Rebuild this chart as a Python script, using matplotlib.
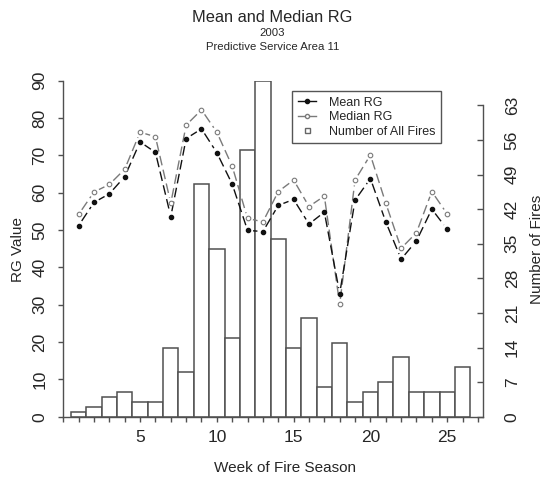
import numpy as np
import matplotlib
matplotlib.use("Agg")
import matplotlib.pyplot as plt
from matplotlib.lines import Line2D

plt.rcParams['font.family'] = ['Liberation Sans', 'DejaVu Sans']

# ---------------- data ----------------
weeks_line = list(range(1, 26))
mean_rg = [51.2, 57.4, 59.7, 64.3, 73.6, 70.8, 53.6, 74.5, 77.1, 70.7,
           62.3, 49.9, 49.6, 56.6, 58.2, 51.6, 54.8, 33.0, 58.0, 63.8,
           52.2, 42.2, 47.1, 55.6, 50.2]
median_rg = [54.2, 60.2, 62.2, 66.3, 76.2, 75.0, 57.2, 78.1, 82.2, 76.2,
             67.1, 53.1, 52.2, 60.3, 63.4, 56.3, 59.1, 30.1, 63.4, 70.1,
             57.2, 45.1, 49.3, 60.3, 54.3]
weeks_bar = list(range(1, 27))
fire_counts = [1, 2, 4, 5, 3, 3, 14, 9, 47, 34, 16, 54, 68, 36, 14, 20,
               6, 15, 3, 5, 7, 12, 5, 5, 5, 10]
x_ticks = list(range(0, 28))
x_tick_labels = ['5', '10', '15', '20', '25']
rg_ticks = [0, 10, 20, 30, 40, 50, 60, 70, 80, 90]
count_ticks = [0, 7, 14, 21, 28, 35, 42, 49, 56, 63]

title = "Mean and Median RG"
subtitle1 = "2003"
subtitle2 = "Predictive Service Area 11"

# ---------------- figure ----------------
W, H = 547, 483
fig = plt.figure(figsize=(W / 100, H / 100), dpi=100)
left_px, right_px, top_px, bot_px = 63.3, 482.5, 80.7, 416.7
ax = fig.add_axes([left_px / W, 1 - bot_px / H,
                   (right_px - left_px) / W, (bot_px - top_px) / H])
ax2 = ax.twinx()
ax.set_zorder(2)
ax2.set_zorder(1)
ax.patch.set_visible(False)

axis_col = '#505050'
text_col = '#262626'

ax.set_xlim(0, 27.3)
ax.set_ylim(0, 90)
ax2.set_ylim(0, 68)

# bars (counts)
ax2.bar(weeks_bar, fire_counts, width=1.0, facecolor='white',
        edgecolor='#505050', linewidth=1.1)


# lines with gaps around points (R type="b")
def gapped_line(axis, xs, ys, color, dashes, gap_px=5.5):
    tr = axis.transData
    pts = tr.transform(np.column_stack([xs, ys]))
    inv = tr.inverted()
    for p0, p1 in zip(pts[:-1], pts[1:]):
        d = p1 - p0
        L = np.hypot(*d)
        if L <= 2 * gap_px:
            continue
        u = d / L
        q = inv.transform(np.array([p0 + u * gap_px, p1 - u * gap_px]))
        axis.plot(q[:, 0], q[:, 1], color=color, lw=1.0,
                  dashes=dashes, solid_capstyle='butt', dash_capstyle='butt')


mean_col = '#111111'
med_col = '#7a7a7a'
gapped_line(ax, weeks_line, median_rg, med_col, (7.0, 3.2))
gapped_line(ax, weeks_line, mean_rg, mean_col, (7.0, 3.2))
ax.plot(weeks_line, median_rg, linestyle='none', marker='o', markersize=3.3,
        markerfacecolor='white', markeredgecolor=med_col, markeredgewidth=0.8)
ax.plot(weeks_line, mean_rg, linestyle='none', marker='o', markersize=3.0,
        markerfacecolor=mean_col, markeredgecolor=mean_col)

# spines
for s in ['top', 'right']:
    ax.spines[s].set_visible(False)
for s in ['top', 'left', 'bottom']:
    ax2.spines[s].set_visible(False)
ax.spines['left'].set_bounds(0, 90)
ax2.spines['right'].set_bounds(0, 63)
for sp in [ax.spines['left'], ax.spines['bottom'], ax2.spines['right']]:
    sp.set_color(axis_col)
    sp.set_linewidth(1.0)

# ticks
ax.set_xticks(x_ticks)
ax.set_xticklabels([str(t) if str(t) in x_tick_labels else '' for t in x_ticks])
ax.set_yticks(rg_ticks)
ax.set_yticklabels([str(t) for t in rg_ticks], rotation=90, va='center')
ax2.set_yticks(count_ticks)
ax2.set_yticklabels([str(t) for t in count_ticks], rotation=90, va='center')

ax.tick_params(axis='x', direction='out', length=3.8, width=1.0,
               color=axis_col, labelcolor=text_col, labelsize=12.5, pad=6)
ax.tick_params(axis='y', direction='out', length=3.8, width=1.0,
               color=axis_col, labelcolor=text_col, labelsize=12.5, pad=7.5)
ax2.tick_params(axis='y', direction='in', length=4.5, width=1.0,
                color=axis_col, labelcolor=text_col, labelsize=12.5, pad=16)

# titles and labels
fig.text(272.5 / W, 1 - 17 / H, title, ha='center', va='center',
         fontsize=11.8, color=text_col)
fig.text(272.5 / W, 1 - 33 / H, subtitle1, ha='center', va='center',
         fontsize=8.2, color=text_col)
fig.text(272.5 / W, 1 - 47.5 / H, subtitle2, ha='center', va='center',
         fontsize=8.2, color=text_col)
fig.text(285 / W, 1 - 468 / H, "Week of Fire Season", ha='center',
         va='center', fontsize=11, color=text_col)
fig.text(18 / W, 1 - 249 / H, "RG Value", ha='center', va='center',
         rotation=90, fontsize=11, color=text_col)
fig.text(537 / W, 1 - 249 / H, "Number of Fires", ha='center', va='center',
         rotation=90, fontsize=11, color=text_col)

# legend
handles = [
    Line2D([], [], color=mean_col, lw=1.0, marker='o', markersize=3.0,
           markerfacecolor=mean_col, markeredgecolor=mean_col),
    Line2D([], [], color=med_col, lw=1.0, marker='o', markersize=3.0,
           markerfacecolor='white', markeredgecolor=med_col),
    Line2D([], [], linestyle='none', marker='s', markersize=3.6,
           markerfacecolor='white', markeredgecolor='#666666'),
]
labels = ["Mean RG", "Median RG", "Number of All Fires"]
leg = fig.legend(handles, labels, loc='upper left',
                 bbox_to_anchor=(292 / W, 1 - 91 / H), fontsize=9,
                 frameon=True, fancybox=False, framealpha=1,
                 edgecolor='#555555', handlelength=1.5, handletextpad=1.0,
                 labelspacing=0.2, borderpad=0.45, borderaxespad=0)
leg.get_frame().set_linewidth(1.0)
for t in leg.get_texts():
    t.set_color(text_col)

fig.savefig("out.png", dpi=100)
